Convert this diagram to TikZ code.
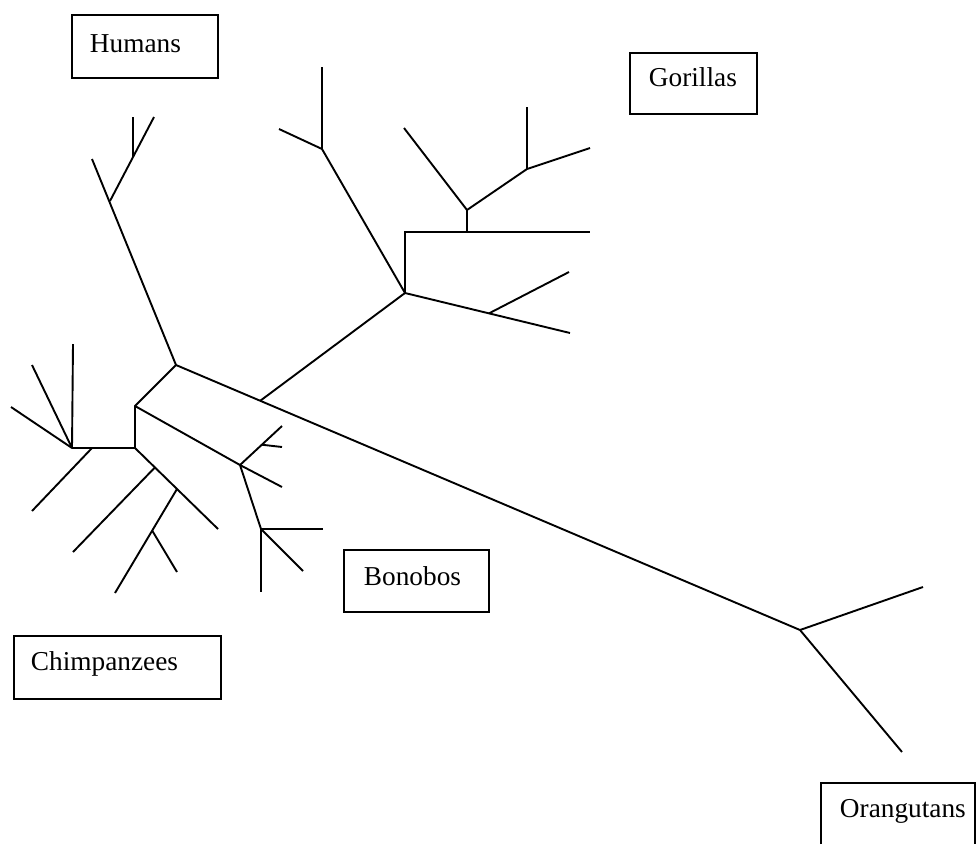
\documentclass[tikz,border=0pt]{standalone}
\usepackage{fontspec}
\setmainfont{Liberation Serif}
\usetikzlibrary{calc}
\begin{document}
\begin{tikzpicture}[x=1pt,y=-1pt,line width=1.9pt,line cap=butt,line join=miter,
  labelbox/.style={draw,line width=1.6pt,inner sep=0pt,anchor=north west},
  labeltext/.style={anchor=base west,inner sep=0pt,font=\fontsize{27.3}{30}\selectfont}]
\useasboundingbox (0,0) rectangle (977,844);
% junctions
\coordinate (R) at (176,365);
\coordinate (A) at (135,406);
\coordinate (A2) at (135,448);
\coordinate (C1) at (72,448);
\coordinate (C2) at (218,529);
\coordinate (B) at (240,465);
\coordinate (B2) at (261,529);
\coordinate (O) at (800,630);
\coordinate (G) at (405,293);
\coordinate (G1) at (322,149);
\coordinate (G2) at (405,232);
\coordinate (G3) at (467,210);
\coordinate (G4) at (527,169);
\coordinate (G5) at (570,333);
\coordinate (Ht) at (92,159);
\coordinate (Hs) at (110,201);
\coordinate (Hst) at (154,117);
% human branch
\draw (R) -- (Ht);
\draw (Hs) -- (Hst);
\coordinate (Hv) at (133,157);
\draw (Hv) -- (133,117);
% chimp / bonobo
\draw (R) -- (A) -- (A2) -- (C1);
\draw (C1) -- (73,344);
\draw (C1) -- (32,365);
\draw (C1) -- (11,407);
\coordinate (C1b) at (92,448);
\draw (C1b) -- (32,511);
\draw (A2) -- (C2);
\coordinate (Cb1) at ($(A2)!0.24!(C2)$);
\draw (Cb1) -- (73,552);
\coordinate (Cb2) at ($(A2)!0.506!(C2)$);
\coordinate (Cb2t) at (115,593);
\draw (Cb2) -- (Cb2t);
\coordinate (Cb3) at ($(Cb2)!0.4!(Cb2t)$);
\draw (Cb3) -- (177,572);
\draw (A) -- (B);
\draw (B) -- (282,426);
\coordinate (Bb) at ($(B)!0.52!(282,426)$);
\draw (Bb) -- (282,447);
\draw (B) -- (282,487);
\draw (B) -- (B2);
\draw (B2) -- (323,529);
\draw (B2) -- (303,571);
\draw (B2) -- (261,592);
% orangutans
\draw (R) -- (O);
\draw (O) -- (923,587);
\draw (O) -- (902,752);
% gorillas
\coordinate (P) at ($(R)!0.135!(O)$);
\draw (P) -- (G);
\draw (G) -- (G1);
\draw (G1) -- (322,67);
\draw (G1) -- (279,129);
\draw (G) -- (G2) -- (590,232);
\coordinate (G2b) at (467,232);
\draw (G2b) -- (G3);
\draw (G3) -- (404,128);
\draw (G3) -- (G4);
\draw (G4) -- (527,107);
\draw (G4) -- (590,148);
\draw (G) -- (G5);
\coordinate (G5b) at ($(G)!0.509!(G5)$);
\draw (G5b) -- (569,272);
% label boxes
\node[labelbox,minimum width=146pt,minimum height=63pt] (humansbox) at (71,14) {};
\node[labeltext] (humans) at (89,52) {Humans};
\node[labelbox,minimum width=127pt,minimum height=61pt] (gorillasbox) at (629,52) {};
\node[labeltext] (gorillas) at (648,86) {Gorillas};
\node[labelbox,minimum width=145pt,minimum height=62pt] (bonobosbox) at (343,549) {};
\node[labeltext] (bonobos) at (363,585) {Bonobos};
\node[labelbox,minimum width=207pt,minimum height=63pt] (chimpsbox) at (13,635) {};
\node[labeltext] (chimps) at (30,670) {Chimpanzees};
\draw[line width=1.6pt] (821,844) -- (821,783) -- (975,783) -- (975,844);
\node[labeltext] (orangutans) at (839,817) {Orangutans};
\end{tikzpicture}
\end{document}
